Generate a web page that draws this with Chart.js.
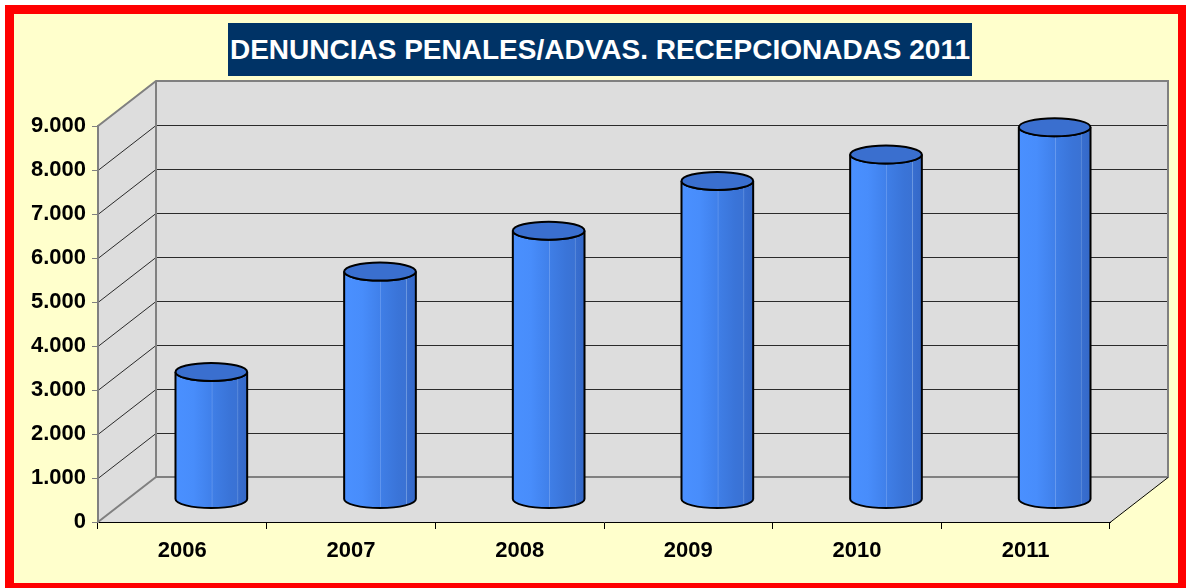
<!DOCTYPE html>
<html>
<head>
<meta charset="utf-8">
<script src="https://cdn.jsdelivr.net/npm/chart.js@4/dist/chart.umd.min.js"></script>
<style>
  body { margin: 0; background: #fff; width: 1186px; height: 588px; overflow: hidden; position: relative; font-family: "Liberation Sans", Arial, sans-serif; }
  #frame { position: absolute; left: 5px; top: 5px; width: 1182px; height: 587px; box-sizing: border-box; border: 9px solid #ff0000; background: #ffffcc; }
  #title { position: absolute; left: 228px; top: 23px; width: 744px; height: 53px; background: #003366; color: #fff; font-weight: bold; font-size: 28px; line-height: 53px; text-align: center; white-space: nowrap; z-index: 2; }
  #chart { position: absolute; left: 0; top: 0; z-index: 1; }
</style>
</head>
<body>
<div id="frame"></div>
<div id="title">DENUNCIAS PENALES/ADVAS. RECEPCIONADAS 2011</div>
<canvas id="chart" width="1186" height="588"></canvas>
<script>
const YEARS = ["2006", "2007", "2008", "2009", "2010", "2011"];
const DENUNCIAS = [2900, 5180, 6110, 7240, 7840, 8460];
const Y_MAX = 9000;
const Y_STEP = 1000;

// depth of the fake 3d box (back wall offset from the front plane)
const DX = 58, DY = -45;

function fmtMiles(v) {
  return String(v).replace(/\B(?=(\d{3})+(?!\d))/g, ".");
}

const walls = {
  id: "walls",
  beforeDraw(chart) {
    const { ctx, chartArea: a, scales: { y } } = chart;
    const L = a.left, R = a.right, B = a.bottom, T = y.getPixelForValue(Y_MAX);
    ctx.save();
    ctx.fillStyle = "#dddddd";
    // side wall
    ctx.beginPath();
    ctx.moveTo(L, B); ctx.lineTo(L, T); ctx.lineTo(L + DX, T + DY); ctx.lineTo(L + DX, B + DY);
    ctx.closePath(); ctx.fill();
    // back wall
    ctx.fillRect(L + DX, T + DY, R - L, B - T);
    // floor
    ctx.beginPath();
    ctx.moveTo(L, B); ctx.lineTo(R, B); ctx.lineTo(R + DX, B + DY); ctx.lineTo(L + DX, B + DY);
    ctx.closePath(); ctx.fill();

    // gridlines on side + back wall
    ctx.strokeStyle = "#2a2a2a";
    ctx.lineWidth = 1;
    for (let v = Y_STEP; v < Y_MAX; v += Y_STEP) {
      const py = Math.round(y.getPixelForValue(v)) + 0.5;
      ctx.beginPath();
      ctx.moveTo(L, py); ctx.lineTo(L + DX, py + DY); ctx.lineTo(R + DX, py + DY);
      ctx.stroke();
    }

    // wall edges
    ctx.strokeStyle = "#808080";
    ctx.lineWidth = 2;
    ctx.beginPath();
    ctx.moveTo(L, T); ctx.lineTo(L + DX, T + DY); ctx.lineTo(R + DX, T + DY);
    ctx.lineTo(R + DX, B + DY); ctx.lineTo(L + DX, B + DY); ctx.lineTo(L + DX, T + DY);
    ctx.moveTo(L, B); ctx.lineTo(L + DX, B + DY);
    ctx.stroke();
    ctx.strokeStyle = "#000";
    ctx.lineWidth = 1;
    ctx.beginPath();
    ctx.moveTo(R, B + 0.5); ctx.lineTo(R + DX, B + DY + 0.5);
    ctx.stroke();
    ctx.restore();
  },
  afterDatasetsDraw(chart) {
    const { ctx } = chart;
    const meta = chart.getDatasetMeta(0);
    ctx.save();
    meta.data.forEach(bar => {
      const cx = bar.x + DX / 2;
      const top = bar.y + DY / 2;
      const base = bar.base + DY / 2;
      const rx = bar.width / 2, ry = 9;

      const g = ctx.createLinearGradient(cx - rx, 0, cx + rx, 0);
      g.addColorStop(0, "#4a90ff");
      g.addColorStop(0.25, "#488dfb");
      g.addColorStop(0.5, "#4080ea");
      g.addColorStop(0.51, "#6d9ef0");
      g.addColorStop(0.52, "#3f7ee6");
      g.addColorStop(0.75, "#3a74d8");
      g.addColorStop(0.86, "#3a72d4");
      g.addColorStop(0.87, "#6c98e0");
      g.addColorStop(0.88, "#386ecf");
      g.addColorStop(1, "#3468c8");

      ctx.beginPath();
      ctx.moveTo(cx - rx, top);
      ctx.lineTo(cx - rx, base);
      ctx.ellipse(cx, base, rx, ry, 0, Math.PI, 0, true);
      ctx.lineTo(cx + rx, top);
      ctx.ellipse(cx, top, rx, ry, 0, 0, Math.PI, false);
      ctx.closePath();
      ctx.fillStyle = g;
      ctx.fill();
      ctx.lineWidth = 2;
      ctx.strokeStyle = "#000";
      ctx.stroke();

      ctx.beginPath();
      ctx.ellipse(cx, top, rx, ry, 0, 0, Math.PI * 2);
      ctx.fillStyle = "#3a6fcf";
      ctx.fill();
      ctx.stroke();
    });
    ctx.restore();
  }
};

new Chart(document.getElementById("chart"), {
  type: "bar",
  data: {
    labels: YEARS,
    datasets: [{
      label: "Denuncias",
      data: DENUNCIAS,
      backgroundColor: "rgba(0,0,0,0)",
      borderWidth: 0,
      categoryPercentage: 1,
      barPercentage: 0.425
    }]
  },
  options: {
    responsive: false,
    devicePixelRatio: 1,
    animation: false,
    layout: { padding: { left: 0, right: 76, top: 126, bottom: 0 } },
    plugins: { legend: { display: false }, tooltip: { enabled: false }, title: { display: false } },
    scales: {
      x: {
        offset: true,
        grid: { drawOnChartArea: false, drawTicks: true, tickLength: 7, color: "#000", offset: true },
        border: { color: "#000", width: 1 },
        ticks: { color: "#000", padding: 9, font: { family: "'Liberation Sans', Arial", size: 22, weight: "bold" } },
        afterFit: s => { s.height = 66; }
      },
      y: {
        min: 0,
        max: Y_MAX,
        grid: { drawOnChartArea: false, drawTicks: true, tickLength: 6, color: "#808080" },
        border: { color: "#808080", width: 2 },
        ticks: {
          stepSize: Y_STEP,
          color: "#000",
          padding: 6,
          font: { family: "'Liberation Sans', Arial", size: 22, weight: "bold" },
          callback: v => fmtMiles(v)
        },
        afterFit: s => { s.width = 98; }
      }
    }
  },
  plugins: [walls]
});
</script>
</body>
</html>
